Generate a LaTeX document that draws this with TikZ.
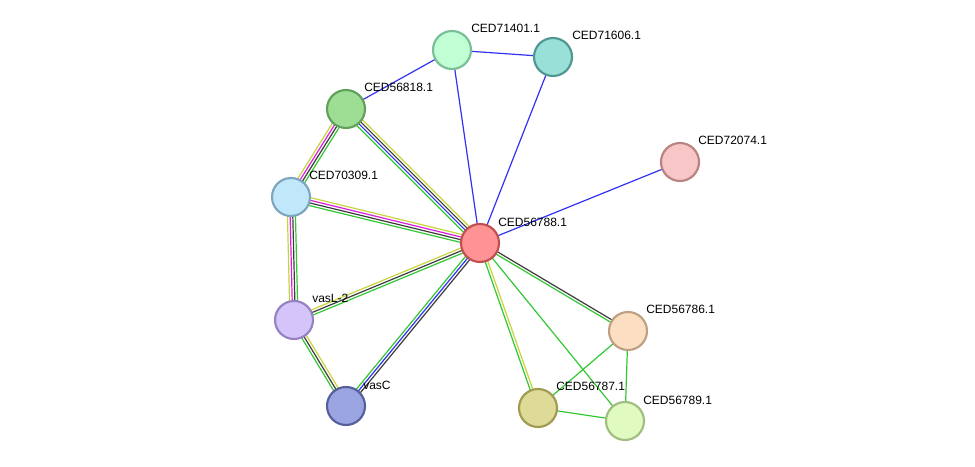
\documentclass[tikz,border=0pt]{standalone}
\usepackage{fontspec}
\setmainfont{Liberation Sans}
\usetikzlibrary{calc}
\pgfdeclarelayer{bgfill}
\pgfdeclarelayer{background}
\pgfsetlayers{bgfill,background,main}
\definecolor{eg}{RGB}{50,200,50}
\definecolor{ey}{RGB}{200,212,60}
\definecolor{em}{RGB}{220,30,220}
\definecolor{ek}{RGB}{60,60,60}
\definecolor{eb}{RGB}{50,50,245}
\tikzset{
  prot/.style={circle,minimum size=28.5pt,inner sep=0pt,line width=1.6pt},
  plabel/.style={anchor=west,font=\fontsize{9}{10}\selectfont,inner sep=0pt},
  eline/.style={line width=0.9pt}
}
\newcommand\medge[3]{%
  \foreach \c [count=\i] in {#3} {\xdef\nn{\i}}%
  \foreach \c [count=\i] in {#3} {%
    \pgfmathsetmacro\off{((\nn+1)/2-\i)*2.0}%
    \draw[eline,\c] ($(#1.center)!\off pt!90:(#2.center)$) -- ($(#2.center)!\off pt!-90:(#1.center)$);
  }%
}
\begin{document}
\begin{tikzpicture}[x=0.75pt,y=-0.75pt]
\begin{pgfonlayer}{bgfill}
\fill[white] (0,0) rectangle (975,467);
\end{pgfonlayer}
\useasboundingbox (0,0) rectangle (975,467);
\node[prot,fill={rgb,255:red,255;green,146;blue,146},draw={rgb,255:red,192;green,80;blue,80}] (a) at (480,243) {};
\node[prot,fill={rgb,255:red,192;green,255;blue,212},draw={rgb,255:red,122;green,190;blue,150}] (b) at (452,50) {};
\node[prot,fill={rgb,255:red,152;green,224;blue,216},draw={rgb,255:red,80;green,150;blue,145}] (c) at (553,57) {};
\node[prot,fill={rgb,255:red,158;green,222;blue,148},draw={rgb,255:red,96;green,160;blue,90}] (d) at (346,109) {};
\node[prot,fill={rgb,255:red,248;green,198;blue,198},draw={rgb,255:red,185;green,130;blue,130}] (e) at (680,162) {};
\node[prot,fill={rgb,255:red,192;green,232;blue,250},draw={rgb,255:red,125;green,165;blue,190}] (f) at (291,197) {};
\node[prot,fill={rgb,255:red,212;green,196;blue,250},draw={rgb,255:red,150;green,130;blue,195}] (g) at (294,320) {};
\node[prot,fill={rgb,255:red,155;green,165;blue,225},draw={rgb,255:red,85;green,95;blue,155}] (h) at (346,406) {};
\node[prot,fill={rgb,255:red,252;green,222;blue,195},draw={rgb,255:red,190;green,160;blue,130}] (i) at (628,331) {};
\node[prot,fill={rgb,255:red,222;green,218;blue,152},draw={rgb,255:red,160;green,155;blue,80}] (j) at (538,408) {};
\node[prot,fill={rgb,255:red,224;green,250;blue,192},draw={rgb,255:red,160;green,190;blue,130}] (k) at (625,421) {};
\node[plabel] (la) at (498,222) {CED56788.1};
\node[plabel] (lb) at (471,28) {CED71401.1};
\node[plabel] (lc) at (572,35) {CED71606.1};
\node[plabel] (ld) at (364,87) {CED56818.1};
\node[plabel] (le) at (698,140) {CED72074.1};
\node[plabel] (lf) at (309,175) {CED70309.1};
\node[plabel] (lg) at (312,298) {vasL-2};
\node[plabel] (lh) at (363,385) {vasC};
\node[plabel] (li) at (646,309) {CED56786.1};
\node[plabel] (lj) at (556,386) {CED56787.1};
\node[plabel] (lk) at (643,400) {CED56789.1};
\begin{pgfonlayer}{background}
\medge{d}{f}{eg,ek,em,ey}
\medge{d}{a}{ey,ek,eb,eg}
\medge{f}{a}{ey,em,ek,eg}
\medge{f}{g}{eg,ek,em,ey}
\medge{g}{a}{ey,ek,eg}
\medge{g}{h}{ey,ek,eg}
\medge{h}{a}{eg,eb,ek}
\medge{a}{i}{ek,eg}
\medge{a}{j}{ey,eg}
\medge{a}{k}{eg}
\medge{i}{j}{eg}
\medge{i}{k}{eg}
\medge{j}{k}{eg}
\medge{d}{b}{eb}
\medge{b}{c}{eb}
\medge{b}{a}{eb}
\medge{c}{a}{eb}
\medge{e}{a}{eb}
\end{pgfonlayer}
\end{tikzpicture}
\end{document}
